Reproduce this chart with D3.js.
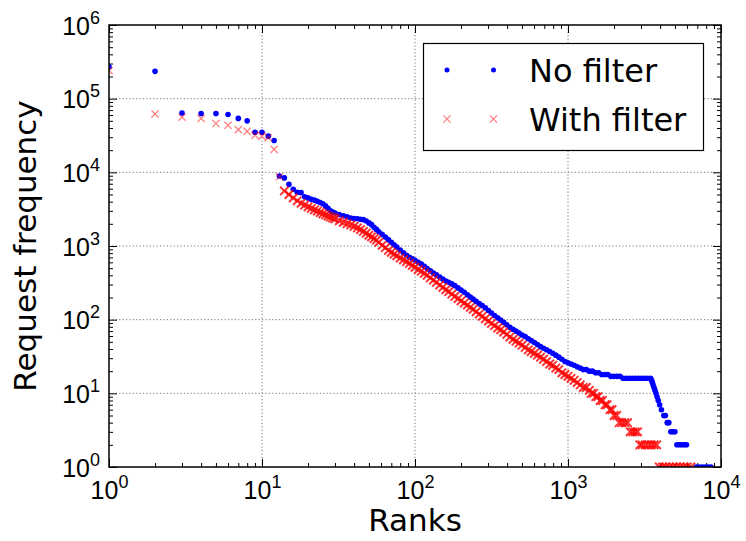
<!DOCTYPE html>
<html>
<head>
<meta charset="utf-8">
<script src="https://cdn.jsdelivr.net/npm/d3@7"></script>
<style>
  body { margin: 0; background: #fff; }
  svg { display: block; font-family: "DejaVu Sans", sans-serif; }
</style>
</head>
<body>
<div id="chart"></div>
<script>
// rank / frequency (log-log)
const noFilterRank = [1,2,3,4,5,6,7,8,9,10,11,12,13,14,15,16,17,18,19,20,
  21,22,23,24,25,26,27,28,29,30,32,34,36,38,40,42,44,46,48,50,52,54,56,58,
  61,64,67,70,73,76,80,84,88,92,96,100,
  105,110,115,120,126,132,138,145,152,159,166,174,182,191,200,
  210,220,230,240,251,263,275,288,302,316,331,347,363,380,398,
  417,437,457,479,501,525,550,575,603,631,661,692,724,759,794,
  832,871,912,955,1000,1047,1096,1148,1202,1259,1318,1380,1445,1514,1585,
  1660,1738,1820,1905,1995,2089,2188,2291,2399,2512,2630,2754,2884,3020,3162,
  3311,3467,
  3520,3560,3600,3650,3700,3760,3820,3890,3970,4080,
  4230,4330,4450,4560,4700,4850,5000,
  5150,5350,5550,5750,5950,
  6900,7200,7550,7900,8250,8600];
const noFilterFreq = [270000,235000,64000,63000,63000,61000,54000,50000,35000,35000,31000,27000,8900,8400,6900,5900,5350,5300,4650,4500,
  4300,4200,4050,3900,3750,3500,3250,3000,2880,2800,2680,2580,2500,2400,2360,2340,2310,2280,2180,2060,1950,1800,1680,1560,
  1440,1320,1220,1120,1040,970,880,810,750,705,670,640,
  600,570,530,495,460,430,405,380,355,335,322,306,290,270,252,
  236,218,203,190,177,165,156,145,133,123,114,106,99,92,85,
  79,74,70,66,62,59,55,52,49,46,43,41,39,37,35,
  33,31,29,27,26,25,24,23,22,21,21,20,20,19,19,
  18,18,18,17,17,17,17,16,16,16,16,16,16,16,16,
  16,16,
  15,14,13,12,11,10,9,8,7,6,
  5,5,4,4,3,3,3,
  2,2,2,2,2,
  1,1,1,1,1,1];

const withFilterRank = [1,2,3,4,5,6,7,8,9,10,11,12,13,14,15,16,17,18,19,20,
  21,22,23,24,25,26,27,28,29,30,32,34,36,38,40,42,44,46,48,50,52,54,56,58,
  61,64,67,70,73,76,80,84,88,92,96,100,
  105,110,115,120,126,132,138,145,152,159,166,174,182,191,200,
  210,220,230,240,251,263,275,288,302,316,331,347,363,380,398,
  417,437,457,479,501,525,550,575,603,631,661,692,724,759,794,
  832,871,912,955,1000,1047,1096,1148,1202,1259,1318,1380,
  1420,1470,1520,1570,1620,1680,1750,1800,1880,1940,2000,2080,
  2160,2250,2350,2450,2550,2650,2750,2850,
  2950,3050,3200,3350,3500,3650,3800,
  3950,4150,4350,4600,4850,5100,5400,5700,6000,6350];
const withFilterFreq = [240000,62000,56000,54000,46000,43500,38000,36000,32000,31000,29500,20500,8700,5600,5000,4500,4100,3800,3600,3400,
  3250,3100,2980,2850,2740,2640,2550,2470,2400,2330,2200,2100,2010,1930,1850,1760,1670,1580,1490,1400,1330,1260,1200,1120,
  1020,950,870,820,775,735,685,650,615,580,545,515,
  480,455,425,400,370,345,320,295,275,255,240,222,207,193,180,
  168,158,147,138,128,119,111,103,96,89,83,77,73,68,63,
  58,54,51,48,45,42,39,37,35,33,31,29,27,25,24,
  22,21,19,18,17,16,15,14,13,12,12,11,
  10,10,9,9,8,8,7,7,6,6,5,5,
  4,4,4,4,3,3,3,3,
  2,2,2,2,2,2,2,
  1,1,1,1,1,1,1,1,1,1];

const xTickExp = [0, 1, 2, 3, 4];
const yTickExp = [0, 1, 2, 3, 4, 5, 6];
const legendLabels = ["No filter", "With filter"];

const width = 746, height = 541;
const margin = {top: 25, right: 25, bottom: 74, left: 109};
const plotW = width - margin.left - margin.right,
      plotH = height - margin.top - margin.bottom;

const svg = d3.select("#chart").append("svg")
    .attr("width", width)
    .attr("height", height);

const x = d3.scaleLog().domain([1, 1e4]).range([0, plotW]);
const y = d3.scaleLog().domain([1, 1e6]).range([plotH, 0]);

const g = svg.append("g")
    .attr("transform", `translate(${margin.left},${margin.top})`);

svg.append("defs").append("clipPath").attr("id", "plotclip")
  .append("rect").attr("width", plotW).attr("height", plotH);

// dotted grid on the decades
g.append("g").selectAll("line")
  .data(xTickExp.slice(1, -1))
  .join("line")
    .attr("x1", d => x(Math.pow(10, d))).attr("x2", d => x(Math.pow(10, d)))
    .attr("y1", 0).attr("y2", plotH)
    .attr("stroke", "#777").attr("stroke-width", 1).attr("stroke-dasharray", "1.2,2.2");
g.append("g").selectAll("line")
  .data(yTickExp.slice(1, -1))
  .join("line")
    .attr("y1", d => y(Math.pow(10, d))).attr("y2", d => y(Math.pow(10, d)))
    .attr("x1", 0).attr("x2", plotW)
    .attr("stroke", "#777").attr("stroke-width", 1).attr("stroke-dasharray", "1.2,2.2");

// minor tick values
const xMinor = [], yMinor = [];
xTickExp.slice(0, -1).forEach(e => { for (let k = 2; k < 10; k++) xMinor.push(k * Math.pow(10, e)); });
yTickExp.slice(0, -1).forEach(e => { for (let k = 2; k < 10; k++) yMinor.push(k * Math.pow(10, e)); });
const xMajor = xTickExp.map(e => Math.pow(10, e));
const yMajor = yTickExp.map(e => Math.pow(10, e));

function tickAxis(axisFn, scale, vals, size, tx, ty) {
  const a = g.append("g")
    .attr("transform", `translate(${tx},${ty})`)
    .call(axisFn(scale).tickValues(vals).tickSizeInner(-size).tickSizeOuter(0).tickFormat(""));
  a.select(".domain").remove();
  a.selectAll(".tick line").attr("stroke", "#000").attr("stroke-width", 1);
  return a;
}
// ticks inside on all four sides
const xAx = tickAxis(d3.axisBottom, x, xMajor, 8, 0, plotH);
tickAxis(d3.axisBottom, x, xMinor, 4, 0, plotH);
tickAxis(d3.axisTop, x, xMajor, 8, 0, 0);
tickAxis(d3.axisTop, x, xMinor, 4, 0, 0);
const yAx = tickAxis(d3.axisLeft, y, yMajor, 8, 0, 0);
tickAxis(d3.axisLeft, y, yMinor, 4, 0, 0);
tickAxis(d3.axisRight, y, yMajor, 8, plotW, 0);
tickAxis(d3.axisRight, y, yMinor, 4, plotW, 0);

// 10^n labels
xAx.selectAll(".tick text").remove();
xAx.selectAll(".tick").append("text")
    .attr("y", 32).attr("text-anchor", "middle").attr("fill", "#000")
    .attr("font-size", 25)
    .each(function(d) {
      const t = d3.select(this);
      t.append("tspan").text("10");
      t.append("tspan").attr("dy", -11).attr("font-size", 18).text(Math.round(Math.log10(d)));
    });
yAx.selectAll(".tick text").remove();
yAx.selectAll(".tick").append("text")
    .attr("x", -9).attr("y", 9).attr("text-anchor", "end").attr("fill", "#000")
    .attr("font-size", 25)
    .each(function(d) {
      const t = d3.select(this);
      t.append("tspan").text("10");
      t.append("tspan").attr("dy", -11).attr("font-size", 18).text(Math.round(Math.log10(d)));
    });

// points
const marks = g.append("g").attr("clip-path", "url(#plotclip)");
const blueData = noFilterRank.map((r, i) => [r, noFilterFreq[i]]);
const redData = withFilterRank.map((r, i) => [r, withFilterFreq[i]]);

marks.append("g").selectAll("circle")
  .data(blueData)
  .join("circle")
    .attr("cx", d => x(d[0]))
    .attr("cy", d => y(d[1]))
    .attr("r", 2.8)
    .attr("fill", "#0000ff");

// translucent crosses pile up where the ranks crowd together
const redGap = redData.map((d, i) => {
  const nb = [redData[i - 1], redData[i + 1]].filter(Boolean);
  return d3.min(nb, n => Math.hypot(x(n[0]) - x(d[0]), y(n[1]) - y(d[1])));
});
const xPath = "M-3.6,-3.6L3.6,3.6M-3.6,3.6L3.6,-3.6";
const xPathDense = "M-4.2,-4.2L4.2,4.2M-4.2,4.2L4.2,-4.2";
marks.append("g").selectAll("path")
  .data(redData)
  .join("path")
    .attr("transform", d => `translate(${x(d[0])},${y(d[1])})`)
    .attr("d", (d, i) => redGap[i] < 6 ? xPathDense : xPath)
    .attr("fill", "none")
    .attr("stroke", "#ff0000")
    .attr("stroke-opacity", (d, i) => redGap[i] < 6 ? 0.8 : 0.5)
    .attr("stroke-width", (d, i) => redGap[i] < 6 ? 2 : 1.3);

// frame
g.append("rect")
    .attr("width", plotW).attr("height", plotH)
    .attr("fill", "none").attr("stroke", "#000").attr("stroke-width", 1.5);

// legend
const leg = g.append("g").attr("transform", `translate(${423.5 - margin.left},${43.5 - margin.top})`);
leg.append("rect")
    .attr("width", 280).attr("height", 107)
    .attr("fill", "#fff").attr("stroke", "#000").attr("stroke-width", 1.2);
legendLabels.forEach((lab, i) => {
  const cy = 26.5 + i * 49;
  [23.5, 70].forEach(mx => {
    if (i === 0) {
      leg.append("circle").attr("cx", mx).attr("cy", cy).attr("r", 2.5).attr("fill", "#0000ff");
    } else {
      leg.append("path").attr("transform", `translate(${mx},${cy})`).attr("d", xPath)
        .attr("fill", "none").attr("stroke", "#ff0000").attr("stroke-opacity", 0.5).attr("stroke-width", 1.3);
    }
  });
  leg.append("text")
      .attr("x", 105.5).attr("y", cy + 11.5)
      .attr("font-size", 32).attr("fill", "#000")
      .text(lab);
});

// axis titles
svg.append("text")
    .attr("x", margin.left + plotW / 2).attr("y", 531)
    .attr("text-anchor", "middle").attr("font-size", 31)
    .text("Ranks");
svg.append("text")
    .attr("transform", `translate(36,${margin.top + plotH / 2}) rotate(-90)`)
    .attr("text-anchor", "middle").attr("font-size", 31)
    .text("Request frequency");
</script>
</body>
</html>
